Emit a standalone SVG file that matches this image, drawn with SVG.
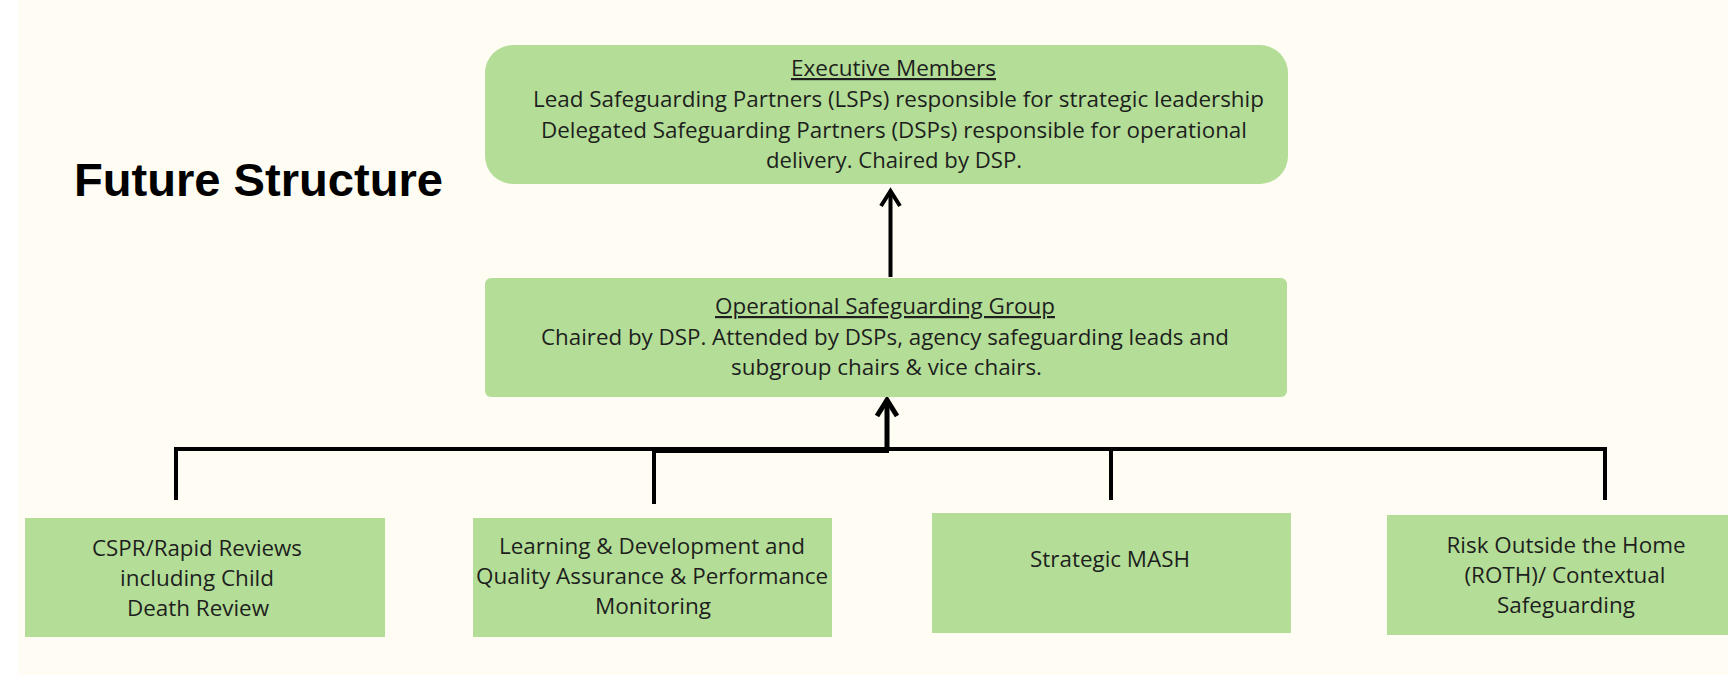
<svg xmlns="http://www.w3.org/2000/svg" width="1728" height="675" viewBox="0 0 1728 675">
  <style>
    .box { fill: #B4DE97; }
    .t { font-family: "Open Sans", "Noto Sans", "Liberation Sans", sans-serif; font-size: 22px; fill: #1E1E1E; text-anchor: middle; }
    .u { text-decoration: underline; }
    .title { font-family: "Liberation Sans", Arial, sans-serif; font-weight: 700; font-size: 46px; fill: #000; }
    .ln { fill: none; stroke: #000; stroke-width: 4; stroke-linejoin: miter; }
    .head { fill: none; stroke: #000; stroke-width: 4; stroke-linejoin: miter; stroke-linecap: butt; }
  </style>
  <rect x="0" y="0" width="1728" height="675" fill="#FFFFFF"/>
  <rect x="18" y="0" width="1710" height="675" fill="#FFFCF3"/>

  <g id="title">
    <text class="title" x="74" y="196" textLength="369" lengthAdjust="spacingAndGlyphs">Future Structure</text>
  </g>

  <g id="connectors">
    <line class="ln" x1="890.5" y1="277" x2="890.5" y2="191"/>
    <path class="head" d="M881,206 L890.5,191 L900,206"/>
    <line class="ln" x1="887" y1="450" x2="887" y2="400" style="stroke-width:5"/>
    <path class="head" d="M877,416 L887,400 L897,416" style="stroke-width:5"/>
    <path class="ln" d="M176,500 V449 H1605 V500"/>
    <line class="ln" x1="654" y1="450" x2="889" y2="450" style="stroke-width:6"/>
    <line class="ln" x1="654" y1="449" x2="654" y2="504"/>
    <line class="ln" x1="1111" y1="449" x2="1111" y2="500"/>
  </g>

  <g id="executive">
    <rect class="box" x="485" y="45" width="803" height="139" rx="28" ry="28"/>
    <text class="t u" x="893.5" y="76" textLength="205" lengthAdjust="spacingAndGlyphs">Executive Members</text>
    <text class="t" x="898.5" y="107" textLength="731" lengthAdjust="spacingAndGlyphs">Lead Safeguarding Partners (LSPs) responsible for strategic leadership</text>
    <text class="t" x="894" y="138" textLength="706" lengthAdjust="spacingAndGlyphs">Delegated Safeguarding Partners (DSPs) responsible for operational</text>
    <text class="t" x="894" y="168" textLength="256" lengthAdjust="spacingAndGlyphs">delivery. Chaired by DSP.</text>
  </g>

  <g id="operational">
    <rect class="box" x="485" y="278" width="802" height="119" rx="6" ry="6"/>
    <text class="t u" x="885" y="314" textLength="340" lengthAdjust="spacingAndGlyphs">Operational Safeguarding Group</text>
    <text class="t" x="885" y="345" textLength="688" lengthAdjust="spacingAndGlyphs">Chaired by DSP. Attended by DSPs, agency safeguarding leads and</text>
    <text class="t" x="886.5" y="375" textLength="311" lengthAdjust="spacingAndGlyphs">subgroup chairs &amp; vice chairs.</text>
  </g>

  <g id="cspr">
    <rect class="box" x="25" y="518" width="360" height="119"/>
    <text class="t" x="197" y="556" textLength="210" lengthAdjust="spacingAndGlyphs">CSPR/Rapid Reviews</text>
    <text class="t" x="197" y="586" textLength="154" lengthAdjust="spacingAndGlyphs">including Child</text>
    <text class="t" x="198" y="616" textLength="142" lengthAdjust="spacingAndGlyphs">Death Review</text>
  </g>

  <g id="learning">
    <rect class="box" x="473" y="518" width="359" height="119"/>
    <text class="t" x="652" y="554" textLength="306" lengthAdjust="spacingAndGlyphs">Learning &amp; Development and</text>
    <text class="t" x="652" y="584" textLength="352" lengthAdjust="spacingAndGlyphs">Quality Assurance &amp; Performance</text>
    <text class="t" x="653" y="614" textLength="116" lengthAdjust="spacingAndGlyphs">Monitoring</text>
  </g>

  <g id="mash">
    <rect class="box" x="932" y="513" width="359" height="120"/>
    <text class="t" x="1110" y="567" textLength="160" lengthAdjust="spacingAndGlyphs">Strategic MASH</text>
  </g>

  <g id="roth">
    <rect class="box" x="1387" y="515" width="341" height="120"/>
    <text class="t" x="1566" y="553" textLength="239" lengthAdjust="spacingAndGlyphs">Risk Outside the Home</text>
    <text class="t" x="1565" y="583" textLength="201" lengthAdjust="spacingAndGlyphs">(ROTH)/ Contextual</text>
    <text class="t" x="1566" y="613" textLength="138" lengthAdjust="spacingAndGlyphs">Safeguarding</text>
  </g>
</svg>
